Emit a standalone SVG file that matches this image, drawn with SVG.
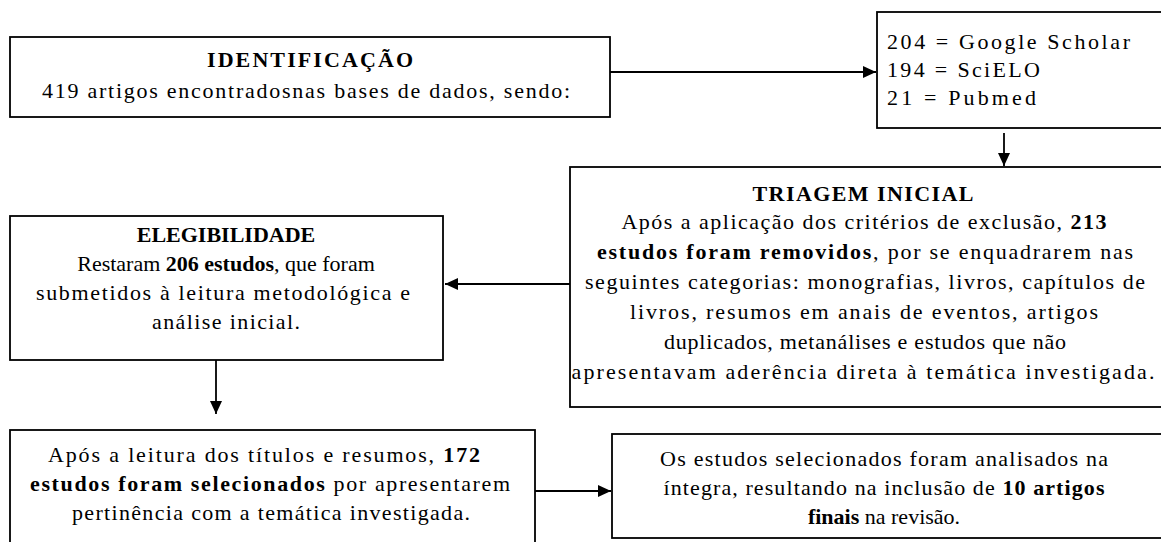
<svg xmlns="http://www.w3.org/2000/svg" width="1161" height="542" viewBox="0 0 1161 542">
<style>
.box{fill:#fff;stroke:#000;stroke-width:1.8}
.t{font-family:"Liberation Serif","Times New Roman",serif;font-size:22px;fill:#000}
.c{text-anchor:middle}
.b{font-weight:bold}
.con{stroke:#000;stroke-width:1.8;fill:none}
</style>
<defs>
<marker id="ah" markerWidth="13" markerHeight="12" refX="13" refY="6" orient="auto" markerUnits="userSpaceOnUse">
<path d="M0,0 L13,6 L0,12 Z" fill="#000"/>
</marker>
</defs>
<rect width="1161" height="542" fill="#fff"/>
<g id="connectors">
<line class="con" x1="610" y1="72" x2="876" y2="72" marker-end="url(#ah)"/>
<line class="con" x1="1004" y1="133" x2="1004" y2="166" marker-end="url(#ah)"/>
<line class="con" x1="570" y1="284" x2="445" y2="284" marker-end="url(#ah)"/>
<line class="con" x1="216" y1="360" x2="216" y2="414" marker-end="url(#ah)"/>
<line class="con" x1="535" y1="491" x2="611" y2="491" marker-end="url(#ah)"/>
</g>
<g id="identificacao">
<rect class="box" x="10" y="37" width="600" height="80"/>
<text class="t c b" x="310" y="67" textLength="206" lengthAdjust="spacing">IDENTIFICAÇÃO</text>
<text class="t c" x="306" y="98" textLength="528" lengthAdjust="spacing">419 artigos encontradosnas bases de dados, sendo:</text>
</g>
<g id="bases">
<rect class="box" x="877" y="12" width="290" height="116"/>
<text class="t" x="887" y="49" textLength="243" lengthAdjust="spacing">204 = Google Scholar</text>
<text class="t" x="887" y="77" textLength="153" lengthAdjust="spacing">194 = SciELO</text>
<text class="t" x="887" y="105" textLength="149" lengthAdjust="spacing">21 = Pubmed</text>
</g>
<g id="triagem">
<rect class="box" x="570" y="167" width="597" height="240"/>
<text class="t c b" x="863" y="201" textLength="221" lengthAdjust="spacing">TRIAGEM  INICIAL</text>
<text class="t c" x="864" y="229" textLength="485" lengthAdjust="spacing">Após a aplicação dos critérios de exclusão, <tspan class="b">213</tspan></text>
<text class="t c" x="865" y="259" textLength="536" lengthAdjust="spacing"><tspan class="b">estudos foram removidos</tspan>, por se enquadrarem nas</text>
<text class="t c" x="865" y="289" textLength="560" lengthAdjust="spacing">seguintes categorias: monografias, livros, capítulos de</text>
<text class="t c" x="864" y="319" textLength="468" lengthAdjust="spacing">livros, resumos em anais de eventos, artigos</text>
<text class="t c" x="865" y="349" textLength="402" lengthAdjust="spacing">duplicados, metanálises e estudos que não</text>
<text class="t c" x="863" y="379" textLength="583" lengthAdjust="spacing">apresentavam aderência direta à temática investigada.</text>
</g>
<g id="elegibilidade">
<rect class="box" x="10" y="216" width="433" height="144"/>
<text class="t c b" x="226" y="242">ELEGIBILIDADE</text>
<text class="t c" x="226" y="271">Restaram <tspan class="b">206 estudos</tspan>,  que foram</text>
<text class="t c" x="223" y="300" textLength="374" lengthAdjust="spacing">submetidos à leitura metodológica e</text>
<text class="t c" x="226" y="329" textLength="148" lengthAdjust="spacing">análise inicial.</text>
</g>
<g id="selecao">
<rect class="box" x="10" y="430" width="525" height="120"/>
<text class="t c" x="264" y="462" textLength="432" lengthAdjust="spacing">Após a leitura dos títulos e resumos, <tspan class="b">172</tspan></text>
<text class="t c" x="270" y="491" textLength="480" lengthAdjust="spacing"><tspan class="b">estudos foram selecionados</tspan> por apresentarem</text>
<text class="t c" x="271" y="520" textLength="398" lengthAdjust="spacing">pertinência com a temática investigada.</text>
</g>
<g id="inclusao">
<rect class="box" x="612" y="434" width="555" height="104"/>
<text class="t c" x="884" y="466" textLength="448" lengthAdjust="spacing">Os estudos selecionados foram analisados na</text>
<text class="t c" x="884" y="495" textLength="441" lengthAdjust="spacing">íntegra, resultando na inclusão de <tspan class="b">10 artigos</tspan></text>
<text class="t c" x="884" y="524"><tspan class="b">finais</tspan> na revisão.</text>
</g>
</svg>
